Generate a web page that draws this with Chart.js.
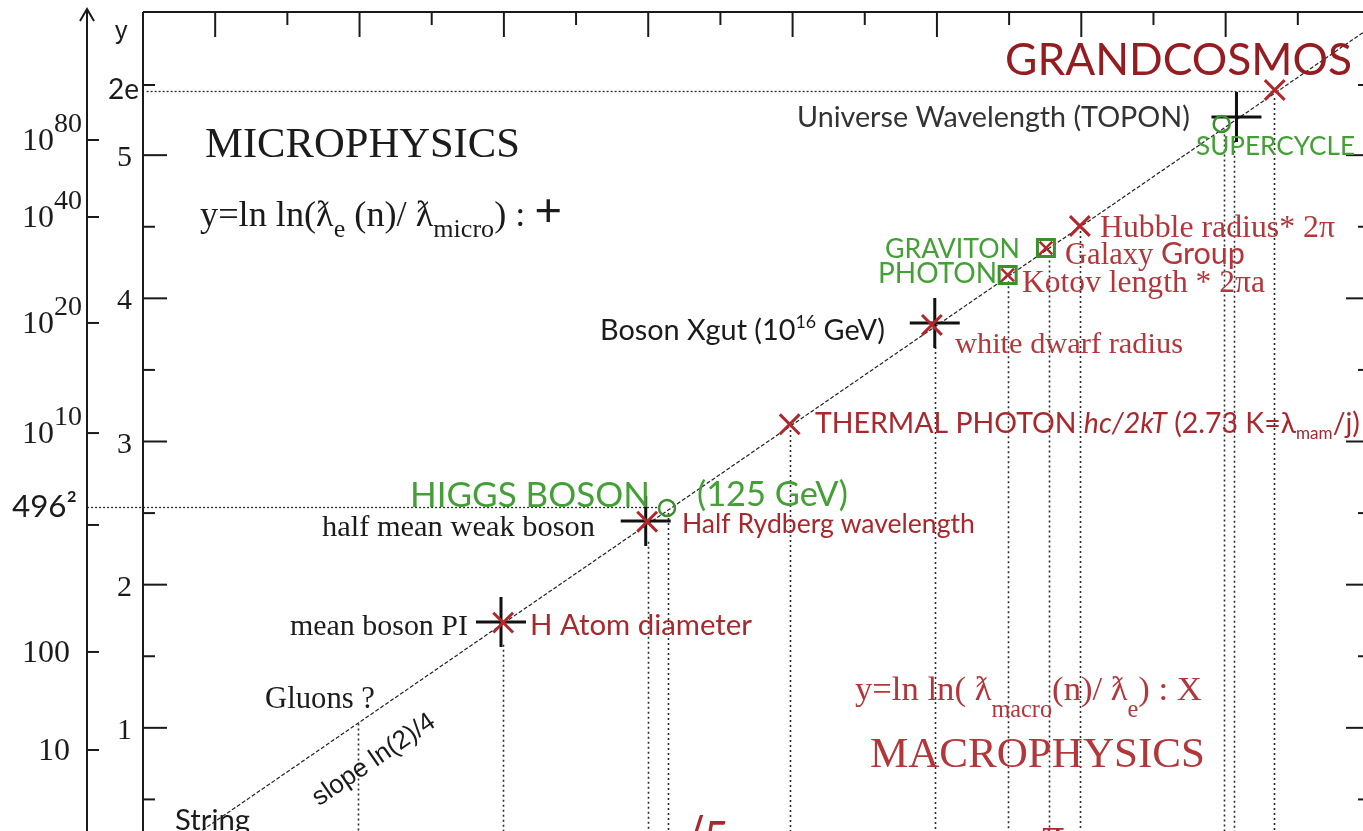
<!DOCTYPE html>
<html lang="en">
<head>
    <meta charset="UTF-8">
    <title>Micro / Macro wavelength ladder</title>
    <script src="https://cdn.jsdelivr.net/npm/chart.js"></script>
    <style>
        html, body { margin: 0; padding: 0; background: #fff; overflow: hidden; }
        #wrap { width: 1363px; height: 831px; overflow: hidden; }
        canvas { display: block; }
    </style>
</head>
<body>
<div id="wrap"><canvas id="ladder" width="1380" height="880"></canvas></div>
<script>
// ---- data (x = n, y = ln ln ratio) ----
const lineN = [0, 34];
const lineY = [0, 5.89];

// micro "+" markers
const microNames = ['mean boson PI', 'half mean weak boson', 'Boson Xgut', 'Universe Wavelength (TOPON)'];
const microN = [9.92, 13.93, 21.94, 30.3];
const microY = [1.74, 2.445, 3.828, 5.266];

// macro "X" markers
const macroNames = ['H Atom diameter', 'Half Rydberg wavelength', 'THERMAL PHOTON', 'white dwarf radius', 'Hubble radius* 2π', 'GRANDCOSMOS'];
const macroN = [9.98, 13.97, 17.92, 21.86, 25.96, 31.36];
const macroY = [1.735, 2.44, 3.12, 3.814, 4.505, 5.455];

// boxed markers (green square with red X inside)
const boxedNames = ['PHOTON / Kotov length * 2πa', 'GRAVITON / Galaxy Group'];
const boxedN = [23.96, 25.02];
const boxedY = [4.163, 4.351];

// green rings
const ringNames = ['HIGGS BOSON (125 GeV)', 'SUPERCYCLE'];
const ringN = [14.52, 29.89];
const ringY = [2.535, 5.218];

// vertical dotted drops (n, and the y where each starts)
const dropN = [5.96, 9.98, 13.98, 14.55, 17.92, 21.94, 23.96, 25.1, 25.96, 29.95, 30.22, 31.33];
const dropTop = [1.03, 1.58, 2.30, 2.50, 3.08, 3.66, 4.12, 4.30, 4.47, 5.18, 5.10, 5.40];

// horizontal dotted references
const refY = [5.45, 2.542];
const refFrom = [0.1, -1.55];
const refTo = [31.3, 14.3];

// axis ticks
const yTickVals = [1, 2, 3, 4, 5];
const yTickLabels = ['1', '2', '3', '4', '5'];
const yMinorVals = [0.5, 1.5, 2.5, 3.5, 4.5];
const twoETick = 5.49;
const topMajorN = [2, 6, 10, 14, 18, 22, 26, 30];
const topMinorN = [4, 8, 12, 16, 20, 24, 28, 32];
const outerVals = [5.106, 4.568, 3.828, 3.059, 2.417, 1.530, 0.845];
const outerBase = ['10', '10', '10', '10', '', '100', '10'];
const outerSup = ['80', '40', '20', '10', '', '', ''];

// ---- styles ----
const SERIF = '"Liberation Serif", "DejaVu Serif", serif';
const SANS = 'Lato, "Open Sans", sans-serif';
const ARIAL = '"Liberation Sans", Arial, sans-serif';
const INK = '#1b1b1b';
const RED = '#b3363b';
const RED2 = '#a8282d';
const DARKRED = '#951d21';
const GREEN = '#3a902d';
const GTEXT = '#44a036';

const notes = [
    { x: 115, b: 39, size: 25, segs: [{ t: 'y', f: ARIAL }] },
    { x: 108, b: 99, w: 31, segs: [{ t: '2e', f: SANS }] },
    { x: 12, b: 517, w: 65, segs: [{ t: '496', f: SANS }, { t: '²', f: SANS }] },
    { x: 205, b: 157, w: 315, segs: [{ t: 'MICROPHYSICS' }] },
    { x: 200, b: 226, w: 362, segs: [{ t: 'y=ln ln(' }, { t: 'ƛ' }, { t: 'e', k: 0.72, dy: 0.3 }, { t: ' (n)/ ' }, { t: 'ƛ' }, { t: 'micro', k: 0.72, dy: 0.3 }, { t: ') : ' }, { t: '+', f: ARIAL, k: 1.3 }] },
    { x: 797, b: 127, w: 393, c: '#333', segs: [{ t: 'Universe Wavelength (TOPON)', f: SANS }] },
    { x: 1005, b: 75, w: 347, c: DARKRED, segs: [{ t: 'GRANDCOSMOS', f: SANS }] },
    { x: 1196, b: 155, w: 159, c: GTEXT, segs: [{ t: 'SUPERCYCLE', f: SANS }] },
    { x: 1100, b: 237, w: 235, c: RED, segs: [{ t: 'Hubble radius* 2π' }] },
    { x: 885, b: 258, w: 135, c: GTEXT, segs: [{ t: 'GRAVITON', f: SANS }] },
    { x: 1065, b: 264, w: 180, c: RED, segs: [{ t: 'Galaxy ' }, { t: 'Group', f: SANS }] },
    { x: 878, b: 283, w: 119, c: GTEXT, segs: [{ t: 'PHOTON', f: SANS }] },
    { x: 1022, b: 292, w: 243, c: RED, segs: [{ t: 'Kotov length * 2πa' }] },
    { x: 600, b: 340, w: 285, segs: [{ t: 'Boson Xgut (10', f: SANS }, { t: '16', f: SANS, k: 0.62, dy: -0.42 }, { t: ' GeV)', f: SANS }] },
    { x: 955, b: 353, w: 228, c: RED, segs: [{ t: 'white dwarf radius' }] },
    { x: 815, b: 433, w: 545, c: RED2, segs: [{ t: 'THERMAL PHOTON ', f: SANS }, { t: 'hc/2kT', f: SANS, i: true }, { t: ' (2.73 K=λ', f: SANS }, { t: 'mam', f: SANS, k: 0.6, dy: 0.22 }, { t: '/j)', f: SANS }] },
    { x: 410, b: 507, w: 240, c: GTEXT, segs: [{ t: 'HIGGS BOSON', f: SANS }] },
    { x: 697, b: 506, w: 151, c: GTEXT, segs: [{ t: '(125 GeV)', f: SANS }] },
    { x: 322, b: 536, w: 273, segs: [{ t: 'half mean weak boson' }] },
    { x: 682, b: 533, w: 293, c: RED2, segs: [{ t: 'Half Rydberg wavelength', f: SANS }] },
    { x: 290, b: 635, w: 178, segs: [{ t: 'mean boson PI' }] },
    { x: 530, b: 635, w: 222, c: RED2, segs: [{ t: 'H Atom diameter', f: SANS }] },
    { x: 265, b: 708, w: 110, segs: [{ t: 'Gluons ?' }] },
    { x: 855, b: 700, w: 347, c: RED, segs: [{ t: 'y=ln ln( ' }, { t: 'ƛ' }, { t: 'macro', k: 0.7, dy: 0.5 }, { t: '(n)/ ' }, { t: 'ƛ' }, { t: 'e', k: 0.7, dy: 0.5 }, { t: ') : X' }] },
    { x: 870, b: 767, w: 335, c: RED, segs: [{ t: 'MACROPHYSICS' }] },
    { x: 175, b: 830, w: 75, segs: [{ t: 'String', f: SANS }] },
    { x: 676, b: 853, size: 44, c: RED2, segs: [{ t: '√5', f: SANS }] },
    { x: 1042, b: 848, size: 44, c: RED2, segs: [{ t: 'π' }] }
];

function fontOf(s, size) {
    return (s.i ? 'italic ' : '') + (size * (s.k || 1)).toFixed(2) + 'px ' + (s.f || SERIF);
}

function rich(ctx, n) {
    let size = n.size;
    if (!size) {
        let total = 0;
        n.segs.forEach(s => { ctx.font = fontOf(s, 100); total += ctx.measureText(s.t).width; });
        size = 100 * n.w / total;
    }
    let cx = n.x;
    ctx.textBaseline = 'alphabetic';
    ctx.textAlign = 'left';
    n.segs.forEach(s => {
        ctx.font = fontOf(s, size);
        ctx.fillStyle = n.c || INK;
        ctx.fillText(s.t, cx, n.b + (s.dy || 0) * size);
        cx += ctx.measureText(s.t).width;
    });
}

function hline(ctx, x1, x2, y) { ctx.beginPath(); ctx.moveTo(x1, y); ctx.lineTo(x2, y); ctx.stroke(); }
function vline(ctx, x, y1, y2) { ctx.beginPath(); ctx.moveTo(x, y1); ctx.lineTo(x, y2); ctx.stroke(); }

const ladderDecor = {
    id: 'ladderDecor',
    beforeDatasetsDraw(chart) {
        const { ctx, chartArea: a, scales: { x, y } } = chart;
        ctx.save();
        ctx.strokeStyle = '#2a2a2a';
        ctx.lineWidth = 1.6;
        ctx.setLineDash([2, 3]);
        dropN.forEach((n, i) => {
            vline(ctx, Math.round(x.getPixelForValue(n)) + 0.5, y.getPixelForValue(dropTop[i]), a.bottom);
        });
        ctx.lineWidth = 1.3;
        ctx.setLineDash([2, 2]);
        refY.forEach((v, i) => {
            hline(ctx, x.getPixelForValue(refFrom[i]), x.getPixelForValue(refTo[i]), Math.round(y.getPixelForValue(v)) + 0.5);
        });
        ctx.restore();
    },
    afterDatasetsDraw(chart) {
        const { ctx, chartArea: a, scales: { x, y } } = chart;
        ctx.save();
        ctx.strokeStyle = '#1a1a1a';
        ctx.lineWidth = 2;
        ctx.setLineDash([]);
        // frame
        hline(ctx, a.left, a.right, a.top);
        vline(ctx, a.left, a.top, a.bottom);
        vline(ctx, a.right, a.top, a.bottom);
        // inward ticks
        yTickVals.forEach(v => {
            const py = y.getPixelForValue(v);
            hline(ctx, a.left, a.left + 24, py);
            hline(ctx, a.right - 24, a.right, py);
        });
        yMinorVals.concat([twoETick]).forEach(v => {
            const py = y.getPixelForValue(v);
            hline(ctx, a.left, a.left + 12, py);
            hline(ctx, a.right - 12, a.right, py);
        });
        topMajorN.forEach(n => vline(ctx, x.getPixelForValue(n), a.top, a.top + 25));
        topMinorN.forEach(n => vline(ctx, x.getPixelForValue(n), a.top, a.top + 13));

        // outer value axis with arrow
        const ox = 87;
        vline(ctx, ox, 10, 880);
        ctx.beginPath();
        ctx.moveTo(ox - 7, 21); ctx.lineTo(ox, 9); ctx.lineTo(ox + 7, 21);
        ctx.stroke();
        outerVals.forEach(v => hline(ctx, ox, ox + 12, y.getPixelForValue(v)));

        // tick labels
        ctx.fillStyle = INK;
        ctx.textBaseline = 'alphabetic';
        ctx.textAlign = 'right';
        ctx.font = '30px ' + SERIF;
        yTickVals.forEach((v, i) => ctx.fillText(yTickLabels[i], 132, y.getPixelForValue(v) + 11));
        outerVals.forEach((v, i) => {
            if (!outerBase[i]) return;
            const py = y.getPixelForValue(v);
            ctx.font = '32px ' + SERIF;
            ctx.textAlign = 'left';
            const bx = outerSup[i] ? 22 : 70 - ctx.measureText(outerBase[i]).width;
            ctx.fillText(outerBase[i], bx, py + 10);
            if (outerSup[i]) {
                ctx.font = '28px ' + SERIF;
                ctx.fillText(outerSup[i], 54, py - 8);
            }
        });

        // annotations
        notes.forEach(n => rich(ctx, n));

        // slope label along the line
        ctx.save();
        ctx.translate(374, 760);
        ctx.rotate(-34.5 * Math.PI / 180);
        ctx.font = '26px ' + ARIAL;
        ctx.textAlign = 'center';
        ctx.textBaseline = 'middle';
        ctx.fillStyle = INK;
        ctx.fillText('slope ln(2)/4', 0, 0);
        ctx.restore();
        ctx.restore();
    }
};

const pts = (ns, ys) => ns.map((n, i) => ({ x: n, y: ys[i] }));

new Chart(document.getElementById('ladder'), {
    type: 'scatter',
    data: {
        datasets: [
            { label: 'macro', data: pts(macroN, macroY), pointStyle: 'crossRot', pointRadius: 14, borderColor: '#b0272c', borderWidth: 3, clip: false },
            { label: 'macro boxed', data: pts(boxedN, boxedY), pointStyle: 'crossRot', pointRadius: 9, borderColor: '#b0272c', borderWidth: 2.5, clip: false },
            { label: 'boxes', data: pts(boxedN, boxedY), pointStyle: 'rect', pointRadius: 12, borderColor: GREEN, backgroundColor: 'rgba(0,0,0,0)', borderWidth: 3, clip: false },
            { label: 'rings', data: pts(ringN, ringY), pointStyle: 'circle', pointRadius: 8, borderColor: GREEN, backgroundColor: 'rgba(0,0,0,0)', borderWidth: 2.5, clip: false },
            { label: 'micro', data: pts(microN, microY), pointStyle: 'cross', pointRadius: 25, borderColor: '#111', borderWidth: 3, clip: false },
            { label: 'slope', data: pts(lineN, lineY), showLine: true, pointRadius: 0, borderColor: '#222', borderWidth: 1.2, borderDash: [4, 2] }
        ]
    },
    options: {
        responsive: false,
        animation: false,
        events: [],
        layout: { padding: { left: 143, top: 12, right: 10, bottom: 9 }, autoPadding: false },
        scales: {
            x: { type: 'linear', min: 0, max: 34, display: false },
            y: { type: 'linear', min: 0, max: 6, display: false }
        },
        plugins: { legend: { display: false }, tooltip: { enabled: false } }
    },
    plugins: [ladderDecor]
});
</script>
</body>
</html>
